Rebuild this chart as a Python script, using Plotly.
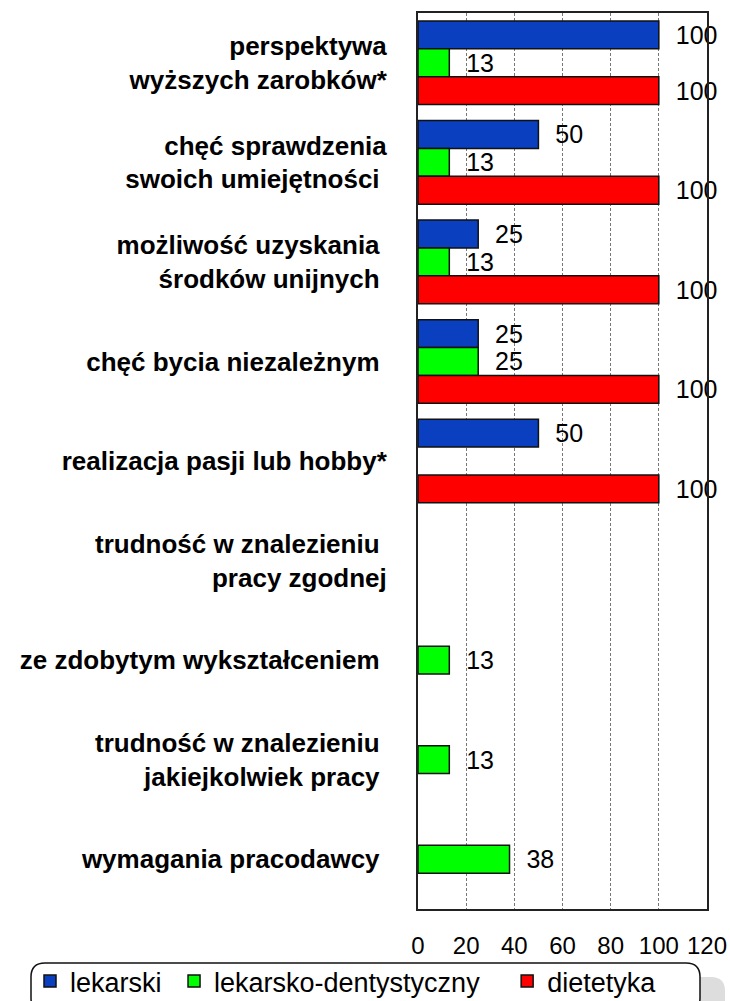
import plotly.graph_objects as go

# ---- data ----
categories = [
    "perspektywa wyższych zarobków*",
    "chęć sprawdzenia swoich umiejętności",
    "możliwość uzyskania środków unijnych",
    "chęć bycia niezależnym",
    "realizacja pasji lub hobby*",
    "trudność w znalezieniu pracy zgodnej",
    "ze zdobytym wykształceniem",
    "trudność w znalezieniu jakiejkolwiek pracy",
    "wymagania pracodawcy",
]
tick_labels = [
    "perspektywa<br>wyższych zarobków*",
    "chęć sprawdzenia<br>swoich umiejętności\u00a0",
    "możliwość uzyskania\u00a0<br>środków unijnych\u00a0",
    "chęć bycia niezależnym\u00a0",
    "realizacja pasji lub hobby*",
    "trudność w znalezieniu\u00a0<br>pracy zgodnej",
    "ze zdobytym wykształceniem\u00a0",
    "trudność w znalezieniu\u00a0<br>jakiejkolwiek pracy\u00a0",
    "wymagania pracodawcy\u00a0",
]
series_names = ["lekarski", "lekarsko-dentystyczny", "dietetyka"]
legend_labels = ["lekarski\u00a0", "lekarsko-dentystyczny\u00a0\u00a0\u00a0", "dietetyka"]
lekarski = [100, 50, 25, 25, 50, None, None, None, None]
lekarsko_dentystyczny = [13, 13, 13, 25, None, None, 13, 13, 38]
dietetyka = [100, 100, 100, 100, 100, None, None, None, None]
x_ticks = [0, 20, 40, 60, 80, 100, 120]

colors = ["#0A3FBF", "#00FF00", "#FF0000"]
FONT = "Arial, 'Liberation Sans', sans-serif"

W, H = 730, 1001
ML, MR, MT, MB = 418, 23, 13, 92
PW, PH = W - ML - MR, H - MT - MB

fig = go.Figure()
for name, label, vals, col in zip(series_names, legend_labels,
                                  [lekarski, lekarsko_dentystyczny, dietetyka], colors):
    fig.add_trace(go.Bar(
        y=categories, x=vals, name=label, orientation="h",
        marker=dict(color=col, line=dict(color="#111111", width=1.5)),
        text=["\u00a0\u00a0" + str(v) if v is not None else "" for v in vals],
        textposition="outside", cliponaxis=False, constraintext="none",
        textfont=dict(family=FONT, size=25, color="#000000"),
        hovertemplate=name + ": %{x}<extra></extra>",
    ))

def px_x(p):
    return (p - ML) / PW

def px_y(p):
    return (H - MB - p) / PH

def rounded(x0, y0, x1, y1, r):
    rx, ry = r / PW, r / PH
    X0, X1 = px_x(x0), px_x(x1)
    Yt, Yb = px_y(y0), px_y(y1)
    return (f"M{X0+rx},{Yt} L{X1-rx},{Yt} Q{X1},{Yt} {X1},{Yt-ry} "
            f"L{X1},{Yb+ry} Q{X1},{Yb} {X1-rx},{Yb} L{X0+rx},{Yb} "
            f"Q{X0},{Yb} {X0},{Yb+ry} L{X0},{Yt-ry} Q{X0},{Yt} {X0+rx},{Yt} Z")

shapes = [
    dict(type="path", xref="paper", yref="paper", path=rounded(56, 977, 725, 1030, 14),
         fillcolor="#DDDDDD", line=dict(width=0), layer="above"),
    dict(type="path", xref="paper", yref="paper", path=rounded(31, 963, 700, 1012, 14),
         fillcolor="#FFFFFF", line=dict(color="#111111", width=1.5), layer="above"),
]

fig.update_layout(
    width=W, height=H,
    margin=dict(l=ML, r=MR, t=MT, b=MB, pad=0, autoexpand=False),
    paper_bgcolor="white", plot_bgcolor="white",
    barmode="group", bargap=0.16, bargroupgap=0,
    font=dict(family=FONT, color="#000000"),
    showlegend=True,
    legend=dict(orientation="h", x=px_x(30), xanchor="left", y=px_y(957), yanchor="top",
                font=dict(family=FONT, size=27, color="#000000"),
                bgcolor="rgba(0,0,0,0)", borderwidth=0, traceorder="normal"),
    shapes=shapes,
    xaxis=dict(range=[0, 120], tickvals=x_ticks, ticks="", showgrid=True,
               gridcolor="#777777", griddash="3px,2px", gridwidth=1,
               showline=True, linecolor="#222222", linewidth=2, mirror=True,
               zeroline=False, ticklabelstandoff=14, automargin=False,
               tickfont=dict(family=FONT, size=24, color="#000000")),
    yaxis=dict(autorange="reversed", tickvals=categories, ticktext=tick_labels,
               ticks="", showline=True, linecolor="#222222", linewidth=2, mirror=True,
               showgrid=False, ticklabelstandoff=24, automargin=False,
               tickfont=dict(family=FONT, size=26, color="#000000", weight="bold")),
)

fig.write_html("out.html", config={"displayModeBar": False},
               post_script="document.body.style.margin='0';document.body.style.overflow='hidden';")
